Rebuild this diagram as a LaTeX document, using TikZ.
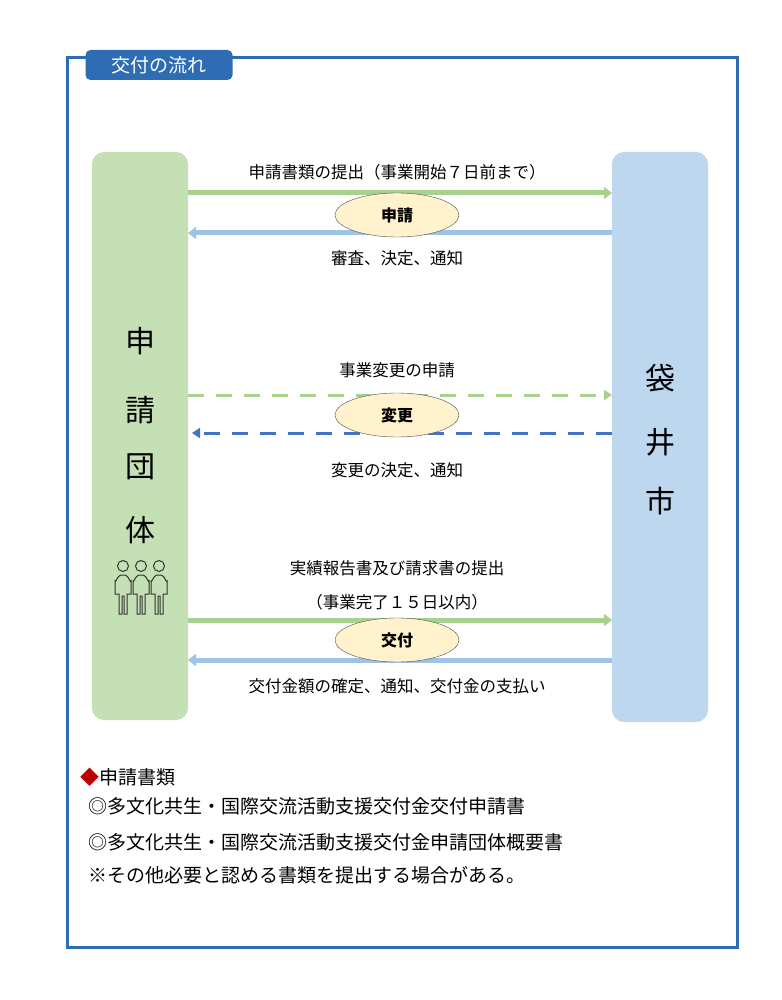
\documentclass[tikz,border=0pt]{standalone}
\usepackage{fontspec}
\setmainfont{Noto Sans CJK JP}
\usetikzlibrary{arrows.meta,shapes.geometric}
\definecolor{frameblue}{RGB}{46,109,180}
\definecolor{lgreen}{RGB}{197,224,180}
\definecolor{lblue}{RGB}{189,215,238}
\definecolor{agreen}{RGB}{169,209,142}
\definecolor{ablue}{RGB}{157,195,230}
\definecolor{dblue}{RGB}{68,114,196}
\definecolor{yel}{RGB}{255,242,204}
\definecolor{dred}{RGB}{192,0,0}
\tikzset{
 side/.style={rounded corners=12pt,minimum width=96pt,inner sep=0pt},
 oval/.style={ellipse,draw=black!70,fill=yel,minimum width=124pt,minimum height=44pt,font=\fontsize{16}{16}\selectfont\bfseries},
 lbl/.style={font=\fontsize{16.5}{17}\selectfont},
 big/.style={font=\fontsize{30}{30}\selectfont},
 arr/.style={line width=5pt,-{Triangle[length=8pt,width=12pt]}},
 darr/.style={line width=3pt,dash pattern=on 16pt off 12pt,-{Triangle[length=8pt,width=10pt]}},
 txt/.style={anchor=west,font=\fontsize{19}{20}\selectfont,inner sep=0pt},
 person/.style={draw=black!80,line width=1pt,fill=lgreen}
}
\begin{document}
\begin{tikzpicture}[x=1pt,y=-1pt]
\useasboundingbox (0,0) rectangle (781,1000);
\draw[frameblue,line width=3pt] (67,58) rectangle (737,947);
\node[fill=frameblue,rounded corners=5pt,minimum width=147pt,minimum height=30pt,text=white,font=\fontsize{19}{19}\selectfont] (title) at (159,65) {交付の流れ};
\node[side,fill=lgreen,minimum height=568pt] (L) at (140,436) {};
\node[side,fill=lblue,minimum height=570pt] (R) at (660,437) {};
\coordinate (l1) at (188,193); \coordinate (r1) at (612,193);
\coordinate (l2) at (188,233); \coordinate (r2) at (612,233);
\draw[arr,agreen] (l1) -- (r1);
\draw[arr,ablue] (r2) -- (l2);
\node[oval] (o1) at (397,215) {申請};
\node[lbl] (t1) at (397,172) {申請書類の提出（事業開始７日前まで）};
\node[lbl] (t2) at (397,258) {審査、決定、通知};
\coordinate (l3) at (188,395); \coordinate (r3) at (612,395);
\coordinate (l4) at (192,433); \coordinate (r4) at (612,433);
\draw[darr,agreen] (l3) -- (r3);
\draw[darr,dblue] (r4) -- (l4);
\node[oval] (o2) at (397,415) {変更};
\node[lbl] (t3) at (397,370) {事業変更の申請};
\node[lbl] (t4) at (397,470) {変更の決定、通知};
\coordinate (l5) at (188,620); \coordinate (r5) at (612,620);
\coordinate (l6) at (188,660); \coordinate (r6) at (612,660);
\draw[arr,agreen] (l5) -- (r5);
\draw[arr,ablue] (r6) -- (l6);
\node[oval] (o3) at (397,640) {交付};
\node[lbl] (t5) at (397,568) {実績報告書及び請求書の提出};
\node[lbl] (t6) at (397,602) {（事業完了１５日以内）};
\node[lbl] (t7) at (397,686) {交付金額の確定、通知、交付金の支払い};
\node[big] (c1) at (140,341) {申};
\node[big] (c2) at (140,410) {請};
\node[big] (c3) at (140,467) {団};
\node[big] (c4) at (140,530) {体};
\node[big] (c5) at (660,378) {袋};
\node[big] (c6) at (660,442) {井};
\node[big] (c7) at (660,501) {市};
\foreach \px in {159,141,123}{
 \draw[person] (\px,566) circle (5.5pt);
 \draw[person] (\px-4,614) -- (\px-4,594) -- (\px-8,594) -- (\px-8,581) to[out=-90,in=180] (\px-2,575) -- (\px+2,575) to[out=0,in=-90] (\px+8,581) -- (\px+8,594) -- (\px+4,594) -- (\px+4,614) -- (\px+1,614) -- (\px+1,596) -- (\px-1,596) -- (\px-1,614) -- cycle;
}
\node[txt] (b0) at (80,777) {{\color{dred}◆}申請書類};
\node[txt] (b1) at (88,806) {◎多文化共生・国際交流活動支援交付金交付申請書};
\node[txt] (b2) at (88,842) {◎多文化共生・国際交流活動支援交付金申請団体概要書};
\node[txt] (b3) at (88,875) {※その他必要と認める書類を提出する場合がある。};
\end{tikzpicture}
\end{document}
